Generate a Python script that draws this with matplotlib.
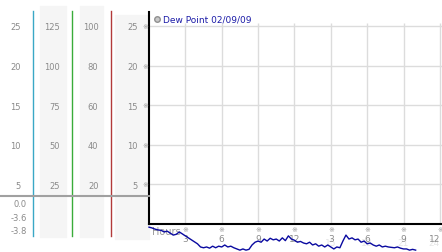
import numpy as np
import matplotlib.pyplot as plt
from matplotlib.lines import Line2D
from matplotlib.patches import Rectangle

# dew point readings, every quarter hour
hours = np.arange(0, 22.01, 0.25)
dew = [-0.4, -0.5, -0.65, -0.75, -0.8, -1.0, -0.9, -1.15, -1.4, -1.3, -1.0, -1.25,
       -1.5, -1.75, -2.0, -2.25, -2.5, -2.9, -3.0, -2.9, -3.05, -2.8, -3.0, -2.8,
       -2.9, -2.65, -2.9, -2.8, -3.0, -3.15, -3.3, -3.15, -3.3, -3.2, -2.65, -2.3,
       -2.15, -2.3, -1.9, -2.15, -1.8, -2.0, -1.9, -2.15, -1.75, -2.1, -1.5, -1.9,
       -2.05, -2.3, -2.2, -2.4, -2.5, -2.3, -2.65, -2.5, -2.8, -2.65, -2.9, -2.65,
       -2.9, -3.15, -2.9, -3.0, -2.15, -1.4, -1.9, -1.75, -2.0, -1.9, -2.3, -2.15,
       -2.5, -2.4, -2.65, -2.8, -2.65, -2.9, -2.8, -2.9, -2.95, -3.0, -2.9, -3.05,
       -3.15, -3.15, -3.3, -3.2, -3.3]
series_name = "Dew Point 02/09/09"

x_ticks = [3, 6, 9, 12, 15, 18, 21, 24]
x_labels = ["3", "6", "9", "12", "3", "6", "9", "12"]
x_labels_24 = ["15", "18", "21", "24"]
y_ticks = [5, 10, 15, 20, 25]
col_factors = [1, 5, 4]
col_colors = ["#3aa8c6", "#3aac3a", "#b23a3a"]
col_lines = [33, 72, 111]
bottom_labels = ["0.0", "-3.6", "-3.8"]

W, H = 442, 253
gray = "#8a8a8a"


def rect(x0, y0, x1, y1):
    return [x0 / W, 1 - y1 / H, (x1 - x0) / W, (y1 - y0) / H]


fig = plt.figure(figsize=(W / 100, H / 100), dpi=100)

# column backgrounds
for x0, y0, x1, y1 in [(40, 7, 66, 238), (80, 7, 103, 238), (115, 16, 149, 240)]:
    fig.add_artist(Rectangle((x0 / W, 1 - y1 / H), (x1 - x0) / W, (y1 - y0) / H,
                             transform=fig.transFigure, color="#f5f5f5", zorder=-5))

# left scale columns
top_v = (225 - 12) / 7.92
bot_v = (225 - 237) / 7.92
for xl, f, c in zip(col_lines, col_factors, col_colors):
    a = fig.add_axes(rect(xl, 12, xl + 1, 237))
    a.set_facecolor("none")
    a.set_ylim(bot_v * f, top_v * f)
    a.set_xticks([])
    a.set_yticks([v * f for v in y_ticks])
    a.set_yticklabels([str(v * f) for v in y_ticks])
    a.tick_params(axis="y", length=0, pad=9, labelsize=6, labelcolor=gray)
    for s in ["top", "right", "bottom"]:
        a.spines[s].set_visible(False)
    a.spines["left"].set_color(c)
    a.spines["left"].set_linewidth(1)

fig.add_artist(Line2D([0, 149 / W], [1 - 197 / H] * 2, transform=fig.transFigure,
                      color="#a0a0a0", lw=1.5))
for lab, yp in zip(bottom_labels, [205, 219, 232]):
    fig.text(27 / W, 1 - yp / H, lab, ha="right", va="center", fontsize=6, color=gray)

# main chart
ax = fig.add_axes(rect(149, 13, 442, 225))
ax.set_facecolor("none")
ax.set_xlim(0, 293 / 12.12)
ax.set_ylim(0, 212 / 7.92)
ax.set_yticks(y_ticks)
ax.tick_params(axis="y", length=0, pad=8, labelsize=6, labelcolor=gray)
ax.set_xticks(x_ticks)
ax.set_xticklabels(x_labels)
ax.tick_params(axis="x", length=0, pad=7, labelsize=6.5, labelcolor=gray)
ax.get_xticklabels()[-1].set_horizontalalignment("right")
ax.grid(axis="y", color="#dcdcdc", lw=1)
ax.vlines(x_ticks, 0, 25.4, color="#dcdcdc", lw=1, zorder=0)
for s in ["top", "right"]:
    ax.spines[s].set_visible(False)
for s in ["left", "bottom"]:
    ax.spines[s].set_color("black")
    ax.spines[s].set_linewidth(1.5)

for v in y_ticks:
    ax.annotate("※", xy=(0, v), xycoords=("axes fraction", "data"), xytext=(-4, 0),
                textcoords="offset pixels", ha="center", va="center", fontsize=5, color="#999999")
for h in x_ticks:
    ax.annotate("※", xy=(h, 0), xycoords=("data", "axes fraction"), xytext=(0, -5),
                textcoords="offset pixels", ha="center", va="center", fontsize=5, color="#999999")
for h, lab in zip(x_ticks[4:], x_labels_24):
    ax.annotate(lab, xy=(h, 0), xycoords=("data", "axes fraction"), xytext=(0, -19),
                textcoords="offset pixels", ha="right" if lab == "24" else "center",
                va="center", fontsize=6.5, color="#e6e6e6", zorder=1)
ax.text(0.25, -0.9, "Hours", fontsize=7, color="#999999", va="center", zorder=2, clip_on=False)

ax.plot(hours, dew, color="#0a0aa0", lw=1, clip_on=False, zorder=4)

handle = Line2D([], [], marker="o", linestyle="none", markersize=4,
                markerfacecolor="#c8c8c8", markeredgecolor="#909090")
ax.legend([handle], [series_name], loc="upper left", bbox_to_anchor=(0.0, 1.0),
          frameon=False, fontsize=6.5, labelcolor="#1c1ca8", handletextpad=0.0,
          handlelength=1.2, borderaxespad=0.1, borderpad=0.2)

fig.savefig("out.png", dpi=100)
